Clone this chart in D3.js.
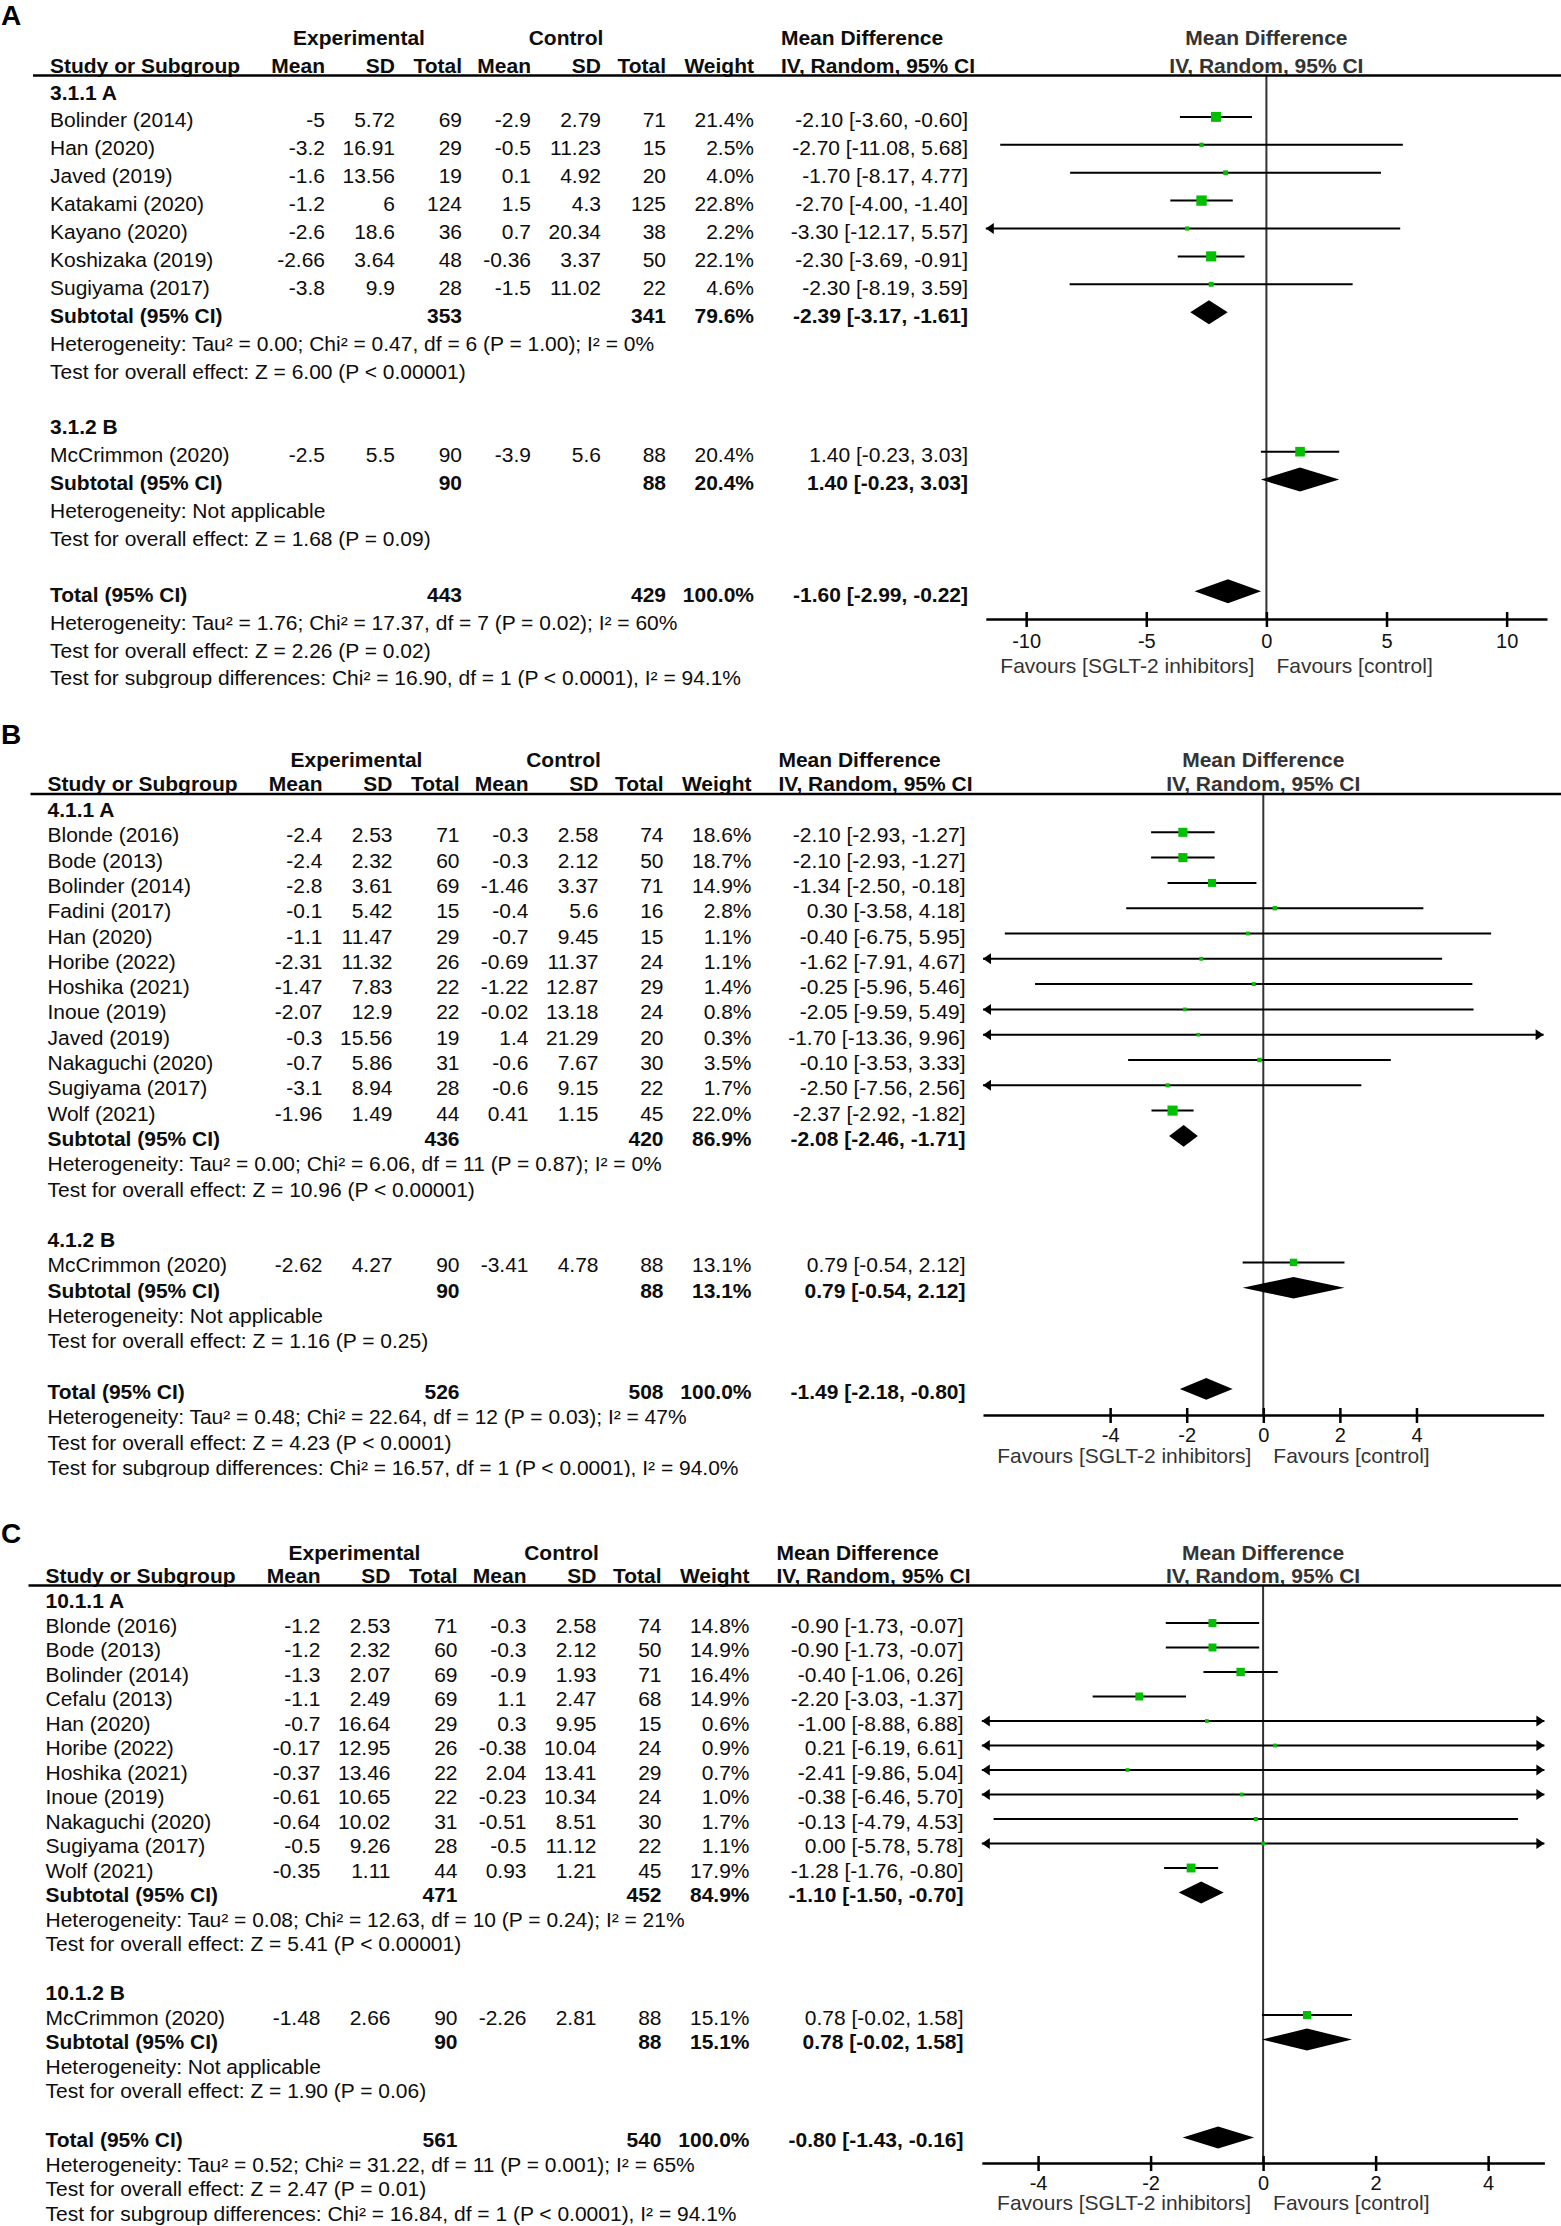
<!DOCTYPE html>
<html>
<head>
<meta charset="utf-8">
<script src="https://cdnjs.cloudflare.com/ajax/libs/d3/7.8.5/d3.min.js"></script>
<style>
  html, body { margin: 0; padding: 0; background: #fff; }
  svg { display: block; }
</style>
</head>
<body>
<div id="chart"></div>
<script>
// ---------------- DATA ----------------
// Panel A
const A_groups = ["3.1.1 A", "3.1.2 B"];
const A_studies = ["Bolinder (2014)", "Han (2020)", "Javed (2019)", "Katakami (2020)", "Kayano (2020)", "Koshizaka (2019)", "Sugiyama (2017)", "McCrimmon (2020)"];
const A_studyGroup = [0, 0, 0, 0, 0, 0, 0, 1];
const A_expMean = [-5, -3.2, -1.6, -1.2, -2.6, -2.66, -3.8, -2.5];
const A_expSD = [5.72, 16.91, 13.56, 6, 18.6, 3.64, 9.9, 5.5];
const A_expN = [69, 29, 19, 124, 36, 48, 28, 90];
const A_ctlMean = [-2.9, -0.5, 0.1, 1.5, 0.7, -0.36, -1.5, -3.9];
const A_ctlSD = [2.79, 11.23, 4.92, 4.3, 20.34, 3.37, 11.02, 5.6];
const A_ctlN = [71, 15, 20, 125, 38, 50, 22, 88];
const A_weight = [21.4, 2.5, 4.0, 22.8, 2.2, 22.1, 4.6, 20.4];
const A_md = [-2.10, -2.70, -1.70, -2.70, -3.30, -2.30, -2.30, 1.40];
const A_lo = [-3.60, -11.08, -8.17, -4.00, -12.17, -3.69, -8.19, -0.23];
const A_hi = [-0.60, 5.68, 4.77, -1.40, 5.57, -0.91, 3.59, 3.03];
const A_subExpN = [353, 90];
const A_subCtlN = [341, 88];
const A_subWeight = [79.6, 20.4];
const A_subMd = [-2.39, 1.40];
const A_subLo = [-3.17, -0.23];
const A_subHi = [-1.61, 3.03];
const A_subHet = ["Heterogeneity: Tau\u00b2 = 0.00; Chi\u00b2 = 0.47, df = 6 (P = 1.00); I\u00b2 = 0%", "Heterogeneity: Not applicable"];
const A_subTest = ["Test for overall effect: Z = 6.00 (P < 0.00001)", "Test for overall effect: Z = 1.68 (P = 0.09)"];
const A_totalN = [443, 429];
const A_totalCI = [-1.60, -2.99, -0.22];
const A_totalNotes = ["Heterogeneity: Tau\u00b2 = 1.76; Chi\u00b2 = 17.37, df = 7 (P = 0.02); I\u00b2 = 60%", "Test for overall effect: Z = 2.26 (P = 0.02)", "Test for subgroup differences: Chi\u00b2 = 16.90, df = 1 (P < 0.0001), I\u00b2 = 94.1%"];
const A_ticks = [-10, -5, 0, 5, 10];

// Panel B
const B_groups = ["4.1.1 A", "4.1.2 B"];
const B_studies = ["Blonde (2016)", "Bode (2013)", "Bolinder (2014)", "Fadini (2017)", "Han (2020)", "Horibe (2022)", "Hoshika (2021)", "Inoue (2019)", "Javed (2019)", "Nakaguchi (2020)", "Sugiyama (2017)", "Wolf (2021)", "McCrimmon (2020)"];
const B_studyGroup = [0, 0, 0, 0, 0, 0, 0, 0, 0, 0, 0, 0, 1];
const B_expMean = [-2.4, -2.4, -2.8, -0.1, -1.1, -2.31, -1.47, -2.07, -0.3, -0.7, -3.1, -1.96, -2.62];
const B_expSD = [2.53, 2.32, 3.61, 5.42, 11.47, 11.32, 7.83, 12.9, 15.56, 5.86, 8.94, 1.49, 4.27];
const B_expN = [71, 60, 69, 15, 29, 26, 22, 22, 19, 31, 28, 44, 90];
const B_ctlMean = [-0.3, -0.3, -1.46, -0.4, -0.7, -0.69, -1.22, -0.02, 1.4, -0.6, -0.6, 0.41, -3.41];
const B_ctlSD = [2.58, 2.12, 3.37, 5.6, 9.45, 11.37, 12.87, 13.18, 21.29, 7.67, 9.15, 1.15, 4.78];
const B_ctlN = [74, 50, 71, 16, 15, 24, 29, 24, 20, 30, 22, 45, 88];
const B_weight = [18.6, 18.7, 14.9, 2.8, 1.1, 1.1, 1.4, 0.8, 0.3, 3.5, 1.7, 22.0, 13.1];
const B_md = [-2.10, -2.10, -1.34, 0.30, -0.40, -1.62, -0.25, -2.05, -1.70, -0.10, -2.50, -2.37, 0.79];
const B_lo = [-2.93, -2.93, -2.50, -3.58, -6.75, -7.91, -5.96, -9.59, -13.36, -3.53, -7.56, -2.92, -0.54];
const B_hi = [-1.27, -1.27, -0.18, 4.18, 5.95, 4.67, 5.46, 5.49, 9.96, 3.33, 2.56, -1.82, 2.12];
const B_subExpN = [436, 90];
const B_subCtlN = [420, 88];
const B_subWeight = [86.9, 13.1];
const B_subMd = [-2.08, 0.79];
const B_subLo = [-2.46, -0.54];
const B_subHi = [-1.71, 2.12];
const B_subHet = ["Heterogeneity: Tau\u00b2 = 0.00; Chi\u00b2 = 6.06, df = 11 (P = 0.87); I\u00b2 = 0%", "Heterogeneity: Not applicable"];
const B_subTest = ["Test for overall effect: Z = 10.96 (P < 0.00001)", "Test for overall effect: Z = 1.16 (P = 0.25)"];
const B_totalN = [526, 508];
const B_totalCI = [-1.49, -2.18, -0.80];
const B_totalNotes = ["Heterogeneity: Tau\u00b2 = 0.48; Chi\u00b2 = 22.64, df = 12 (P = 0.03); I\u00b2 = 47%", "Test for overall effect: Z = 4.23 (P < 0.0001)", "Test for subgroup differences: Chi\u00b2 = 16.57, df = 1 (P < 0.0001), I\u00b2 = 94.0%"];
const B_ticks = [-4, -2, 0, 2, 4];

// Panel C
const C_groups = ["10.1.1 A", "10.1.2 B"];
const C_studies = ["Blonde (2016)", "Bode (2013)", "Bolinder (2014)", "Cefalu (2013)", "Han (2020)", "Horibe (2022)", "Hoshika (2021)", "Inoue (2019)", "Nakaguchi (2020)", "Sugiyama (2017)", "Wolf (2021)", "McCrimmon (2020)"];
const C_studyGroup = [0, 0, 0, 0, 0, 0, 0, 0, 0, 0, 0, 1];
const C_expMean = [-1.2, -1.2, -1.3, -1.1, -0.7, -0.17, -0.37, -0.61, -0.64, -0.5, -0.35, -1.48];
const C_expSD = [2.53, 2.32, 2.07, 2.49, 16.64, 12.95, 13.46, 10.65, 10.02, 9.26, 1.11, 2.66];
const C_expN = [71, 60, 69, 69, 29, 26, 22, 22, 31, 28, 44, 90];
const C_ctlMean = [-0.3, -0.3, -0.9, 1.1, 0.3, -0.38, 2.04, -0.23, -0.51, -0.5, 0.93, -2.26];
const C_ctlSD = [2.58, 2.12, 1.93, 2.47, 9.95, 10.04, 13.41, 10.34, 8.51, 11.12, 1.21, 2.81];
const C_ctlN = [74, 50, 71, 68, 15, 24, 29, 24, 30, 22, 45, 88];
const C_weight = [14.8, 14.9, 16.4, 14.9, 0.6, 0.9, 0.7, 1.0, 1.7, 1.1, 17.9, 15.1];
const C_md = [-0.90, -0.90, -0.40, -2.20, -1.00, 0.21, -2.41, -0.38, -0.13, 0.00, -1.28, 0.78];
const C_lo = [-1.73, -1.73, -1.06, -3.03, -8.88, -6.19, -9.86, -6.46, -4.79, -5.78, -1.76, -0.02];
const C_hi = [-0.07, -0.07, 0.26, -1.37, 6.88, 6.61, 5.04, 5.70, 4.53, 5.78, -0.80, 1.58];
const C_subExpN = [471, 90];
const C_subCtlN = [452, 88];
const C_subWeight = [84.9, 15.1];
const C_subMd = [-1.10, 0.78];
const C_subLo = [-1.50, -0.02];
const C_subHi = [-0.70, 1.58];
const C_subHet = ["Heterogeneity: Tau\u00b2 = 0.08; Chi\u00b2 = 12.63, df = 10 (P = 0.24); I\u00b2 = 21%", "Heterogeneity: Not applicable"];
const C_subTest = ["Test for overall effect: Z = 5.41 (P < 0.00001)", "Test for overall effect: Z = 1.90 (P = 0.06)"];
const C_totalN = [561, 540];
const C_totalCI = [-0.80, -1.43, -0.16];
const C_totalNotes = ["Heterogeneity: Tau\u00b2 = 0.52; Chi\u00b2 = 31.22, df = 11 (P = 0.001); I\u00b2 = 65%", "Test for overall effect: Z = 2.47 (P = 0.01)", "Test for subgroup differences: Chi\u00b2 = 16.84, df = 1 (P < 0.0001), I\u00b2 = 94.1%"];
const C_ticks = [-4, -2, 0, 2, 4];

// ---------------- BUILD ----------------
const W = 1561, H = 2226;
const FONT = "'Liberation Sans', Arial, Helvetica, sans-serif";
const FS = 19.5;
const SX = 1.077;
const GREEN = "#00c000";

const panels = [
  { label: "A", groups: A_groups, studies: A_studies, grp: A_studyGroup, eM: A_expMean, eS: A_expSD, eN: A_expN, cM: A_ctlMean, cS: A_ctlSD, cN: A_ctlN, w: A_weight, md: A_md, lo: A_lo, hi: A_hi,
    sEN: A_subExpN, sCN: A_subCtlN, sW: A_subWeight, sMd: A_subMd, sLo: A_subLo, sHi: A_subHi, sHet: A_subHet, sTest: A_subTest, tN: A_totalN, tCI: A_totalCI, tNotes: A_totalNotes, ticks: A_ticks,
    L: { dx: 0, labelY: 25, h1: 45, h2: 72.5, lineY: 75.5, row0: 99.5, rowH: 27.9, markOff: -10.5, axisY: 619, tickY: 648, favY: 673, domain: [-11.68, 11.68], range: [985.8, 1547], clipTop: 0, clipBot: 688, dHalf: 12 } },
  { label: "B", groups: B_groups, studies: B_studies, grp: B_studyGroup, eM: B_expMean, eS: B_expSD, eN: B_expN, cM: B_ctlMean, cS: B_ctlSD, cN: B_ctlN, w: B_weight, md: B_md, lo: B_lo, hi: B_hi,
    sEN: B_subExpN, sCN: B_subCtlN, sW: B_subWeight, sMd: B_subMd, sLo: B_subLo, sHi: B_subHi, sHet: B_subHet, sTest: B_subTest, tN: B_totalN, tCI: B_totalCI, tNotes: B_totalNotes, ticks: B_ticks,
    L: { dx: -2.5, labelY: 744, h1: 767, h2: 791, lineY: 794, row0: 817, rowH: 25.3, markOff: -10, axisY: 1415, tickY: 1442, favY: 1463, domain: [-7.32, 7.32], range: [983, 1543.6], clipTop: 689, clipBot: 1477, dHalf: 10.8 } },
  { label: "C", groups: C_groups, studies: C_studies, grp: C_studyGroup, eM: C_expMean, eS: C_expSD, eN: C_expN, cM: C_ctlMean, cS: C_ctlSD, cN: C_ctlN, w: C_weight, md: C_md, lo: C_lo, hi: C_hi,
    sEN: C_subExpN, sCN: C_subCtlN, sW: C_subWeight, sMd: C_subMd, sLo: C_subLo, sHi: C_subHi, sHet: C_subHet, sTest: C_subTest, tN: C_totalN, tCI: C_totalCI, tNotes: C_totalNotes, ticks: C_ticks,
    L: { dx: -4.5, labelY: 1543, h1: 1559.5, h2: 1583, lineY: 1585.5, row0: 1608, rowH: 24.5, markOff: -9.5, axisY: 2163, tickY: 2190, favY: 2210, domain: [-5, 5], range: [981.8, 1544.4], clipTop: 1477, clipBot: 2226, dHalf: 10.9 } }
];

const COLS = { name: 50, eM: 325, eS: 395, eN: 462, cM: 531, cS: 601, cN: 666, w: 754, ci: 968, ciHead: 975, exp: 359, ctl: 566, mdHead: 862, lineStart: 33 };

const svg = d3.select("#chart").append("svg").attr("width", W).attr("height", H);
svg.append("rect").attr("width", W).attr("height", H).attr("fill", "#fff");
const defs = svg.append("defs");

function T(g, x, y, s, o = {}) {
  return g.append("text")
    .attr("transform", `translate(${x},${y}) scale(${o.sx !== undefined ? o.sx : SX},1)`)
    .attr("text-anchor", o.anchor || "start")
    .attr("font-family", FONT)
    .attr("font-size", o.size || FS)
    .attr("font-weight", o.bold ? "bold" : "normal")
    .attr("fill", o.fill || "#0d0d0d")
    .text(s);
}
const f2 = v => v.toFixed(2);
const ciText = (m, l, h) => `${f2(m)} [${f2(l)}, ${f2(h)}]`;
const pct = v => v.toFixed(1) + "%";
const boxSize = d3.scaleLinear().domain([0, 25]).range([3.5, 11]);

function drawPanel(P) {
  const L = P.L;
  const c = {};
  Object.keys(COLS).forEach(k => c[k] = COLS[k] + L.dx);

  defs.append("clipPath").attr("id", "clip" + P.label)
    .append("rect").attr("x", 0).attr("y", L.clipTop).attr("width", W).attr("height", L.clipBot - L.clipTop);
  const g = svg.append("g").attr("clip-path", `url(#clip${P.label})`);

  const x = d3.scaleLinear().domain(L.domain).range(L.range);
  const y = d3.scaleLinear().domain([0, 1]).range([L.row0, L.row0 + L.rowH]);
  const [d0, d1] = L.domain;

  // panel label
  T(g, 1, L.labelY, P.label, { sx: 1, size: 28, bold: true, fill: "#000" });

  // headers
  T(g, c.exp, L.h1, "Experimental", { anchor: "middle", bold: true });
  T(g, c.ctl, L.h1, "Control", { anchor: "middle", bold: true });
  T(g, c.mdHead, L.h1, "Mean Difference", { anchor: "middle", bold: true });
  T(g, c.name, L.h2, "Study or Subgroup", { bold: true });
  [["eM", "Mean"], ["eS", "SD"], ["eN", "Total"], ["cM", "Mean"], ["cS", "SD"], ["cN", "Total"], ["w", "Weight"], ["ciHead", "IV, Random, 95% CI"]]
    .forEach(([k, s]) => T(g, c[k], L.h2, s, { anchor: "end", bold: true }));
  T(g, x(0), L.h1, "Mean Difference", { anchor: "middle", bold: true, sx: 1, size: 21, fill: "#333" });
  T(g, x(0), L.h2, "IV, Random, 95% CI", { anchor: "middle", bold: true, sx: 1, size: 21, fill: "#333" });

  // rows
  const rows = [];
  let r = 0;
  P.groups.forEach((gname, gi) => {
    rows.push({ type: "group", text: gname, i: r++ });
    P.studies.forEach((s, si) => { if (P.grp[si] === gi) rows.push({ type: "study", s: si, i: r++ }); });
    rows.push({ type: "sub", gi, i: r++ });
    rows.push({ type: "note", text: P.sHet[gi], i: r++ });
    rows.push({ type: "note", text: P.sTest[gi], i: r++ });
    r++;
  });
  rows.push({ type: "total", i: r++ });
  P.tNotes.forEach(t => rows.push({ type: "note", text: t, i: r++ }));

  const plot = g.append("g");
  // zero line
  plot.append("line").attr("x1", x(0)).attr("x2", x(0)).attr("y1", L.lineY).attr("y2", L.axisY)
    .attr("stroke", "#333").attr("stroke-width", 2);

  function diamond(yc, m, l, h) {
    const pts = [[x(l), yc], [x(m), yc - L.dHalf], [x(h), yc], [x(m), yc + L.dHalf]];
    plot.append("path").attr("d", d3.line()(pts) + "Z").attr("fill", "#000");
  }
  function arrow(xe, yc, dir) {
    const pts = [[xe, yc], [xe - dir * 8, yc - 5.5], [xe - dir * 8, yc + 5.5]];
    plot.append("path").attr("d", d3.line()(pts) + "Z").attr("fill", "#000");
  }

  rows.forEach(row => {
    const yb = y(row.i);
    const ym = yb + L.markOff;
    if (row.type === "group") {
      T(g, c.name, yb, row.text, { bold: true });
    } else if (row.type === "note") {
      T(g, c.name, yb, row.text);
    } else if (row.type === "study") {
      const s = row.s;
      T(g, c.name, yb, P.studies[s]);
      T(g, c.eM, yb, String(P.eM[s]), { anchor: "end" });
      T(g, c.eS, yb, String(P.eS[s]), { anchor: "end" });
      T(g, c.eN, yb, String(P.eN[s]), { anchor: "end" });
      T(g, c.cM, yb, String(P.cM[s]), { anchor: "end" });
      T(g, c.cS, yb, String(P.cS[s]), { anchor: "end" });
      T(g, c.cN, yb, String(P.cN[s]), { anchor: "end" });
      T(g, c.w, yb, pct(P.w[s]), { anchor: "end" });
      T(g, c.ci, yb, ciText(P.md[s], P.lo[s], P.hi[s]), { anchor: "end" });
      const lo = Math.max(P.lo[s], d0), hi = Math.min(P.hi[s], d1);
      plot.append("line").attr("x1", x(lo)).attr("x2", x(hi)).attr("y1", ym).attr("y2", ym)
        .attr("stroke", "#000").attr("stroke-width", 2);
      if (P.lo[s] < d0) arrow(x(d0), ym, -1);
      if (P.hi[s] > d1) arrow(x(d1), ym, 1);
      const bs = boxSize(P.w[s]);
      plot.append("rect").attr("x", x(P.md[s]) - bs / 2).attr("y", ym - bs / 2)
        .attr("width", bs).attr("height", bs).attr("fill", GREEN);
    } else if (row.type === "sub") {
      const gi = row.gi;
      T(g, c.name, yb, "Subtotal (95% CI)", { bold: true });
      T(g, c.eN, yb, String(P.sEN[gi]), { anchor: "end", bold: true });
      T(g, c.cN, yb, String(P.sCN[gi]), { anchor: "end", bold: true });
      T(g, c.w, yb, pct(P.sW[gi]), { anchor: "end", bold: true });
      T(g, c.ci, yb, ciText(P.sMd[gi], P.sLo[gi], P.sHi[gi]), { anchor: "end", bold: true });
      diamond(ym, P.sMd[gi], P.sLo[gi], P.sHi[gi]);
    } else if (row.type === "total") {
      T(g, c.name, yb, "Total (95% CI)", { bold: true });
      T(g, c.eN, yb, String(P.tN[0]), { anchor: "end", bold: true });
      T(g, c.cN, yb, String(P.tN[1]), { anchor: "end", bold: true });
      T(g, c.w, yb, pct(100), { anchor: "end", bold: true });
      T(g, c.ci, yb, ciText(P.tCI[0], P.tCI[1], P.tCI[2]), { anchor: "end", bold: true });
      diamond(ym, P.tCI[0], P.tCI[1], P.tCI[2]);
    }
  });

  // header line
  g.append("line").attr("x1", c.lineStart).attr("x2", W).attr("y1", L.lineY).attr("y2", L.lineY)
    .attr("stroke", "#000").attr("stroke-width", 2.5);

  // axis
  const axis = d3.axisBottom(x).tickValues(P.ticks).tickSizeInner(8).tickSizeOuter(0).tickPadding(0)
    .tickFormat(d => String(d));
  const ag = g.append("g").attr("transform", `translate(0,${L.axisY})`).call(axis)
    .attr("font-family", FONT).attr("font-size", 20);
  ag.select(".domain").attr("stroke", "#000").attr("stroke-width", 2.5);
  ag.selectAll(".tick line").attr("y1", -7).attr("y2", 8).attr("stroke", "#000").attr("stroke-width", 2.5);
  ag.selectAll(".tick text").attr("y", L.tickY - L.axisY).attr("dy", 0).attr("fill", "#111");

  // favours
  T(g, x(0) - 12, L.favY, "Favours [SGLT-2 inhibitors]", { anchor: "end", sx: 1, size: 21, fill: "#333" });
  T(g, x(0) + 10, L.favY, "Favours [control]", { anchor: "start", sx: 1, size: 21, fill: "#333" });
}

panels.forEach(drawPanel);
</script>
</body>
</html>
